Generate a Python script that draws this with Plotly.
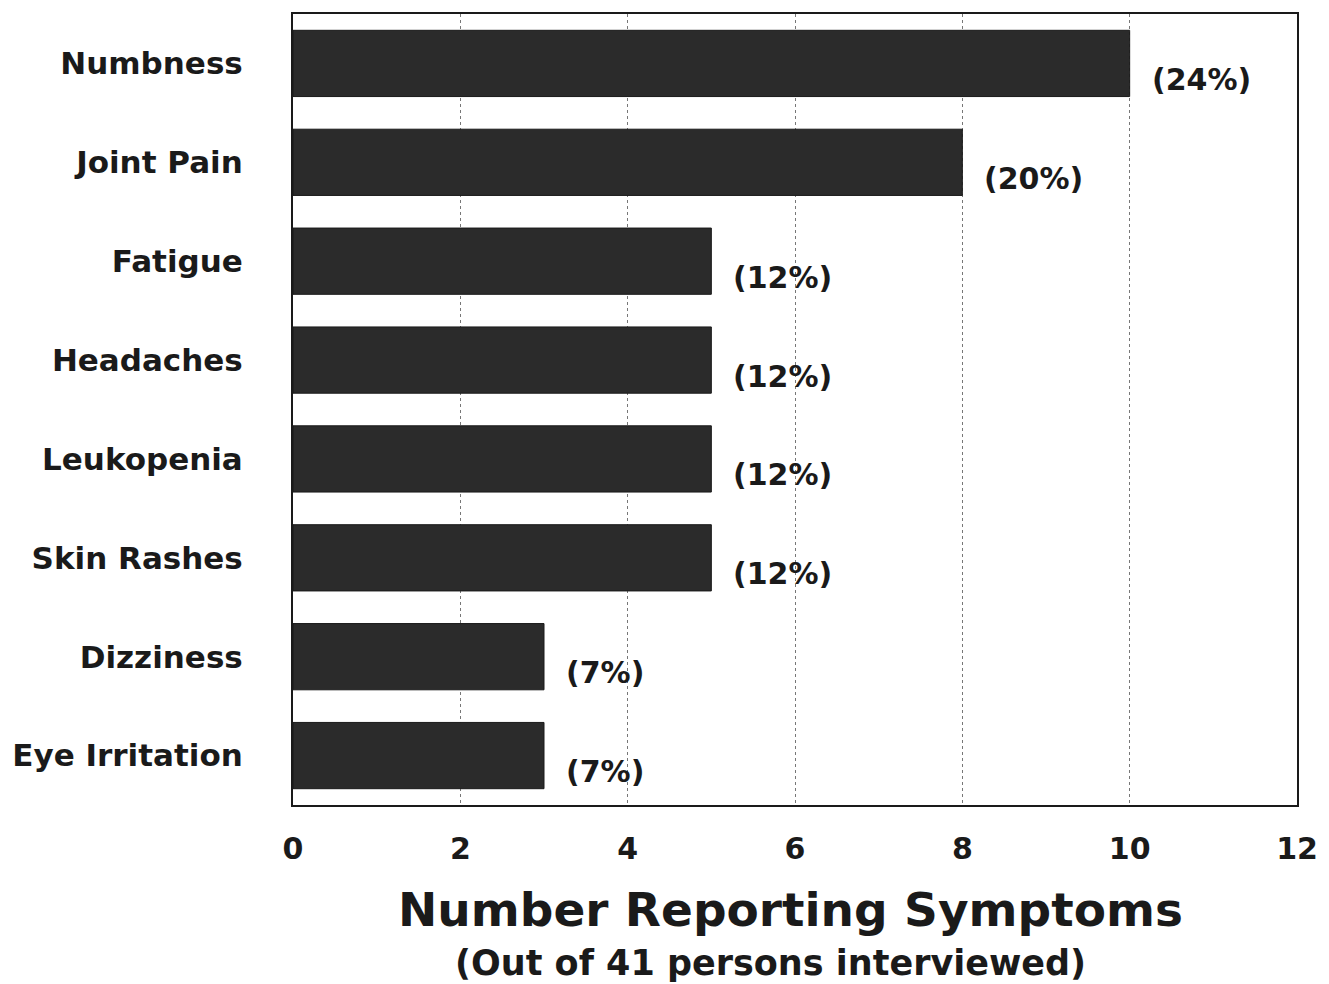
import plotly.graph_objects as go

categories = ["Numbness", "Joint Pain", "Fatigue", "Headaches", "Leukopenia",
              "Skin Rashes", "Dizziness", "Eye Irritation"]
counts = [10, 8, 5, 5, 5, 5, 3, 3]
percent_labels = ["(24%)", "(20%)", "(12%)", "(12%)", "(12%)", "(12%)", "(7%)", "(7%)"]
x_ticks = [0, 2, 4, 6, 8, 10, 12]

fig = go.Figure()
fig.add_trace(go.Bar(
    y=categories, x=counts, orientation="h",
    marker=dict(color="#2b2b2b", line=dict(color="#1a1a1a", width=1)),
    width=0.67, showlegend=False, hoverinfo="skip",
))

for cat, val, lab in zip(categories, counts, percent_labels):
    fig.add_annotation(x=val, y=cat, text="<b>" + lab + "</b>", showarrow=False,
                       xanchor="left", xshift=20, yshift=-16,
                       font=dict(family="DejaVu Sans", size=30, color="#1a1a1a"))

fig.add_annotation(x=0.496, y=-0.095, xref="paper", yref="paper",
                   text="<b>Number Reporting Symptoms</b>", showarrow=False,
                   xanchor="center", yanchor="top",
                   font=dict(family="DejaVu Sans", size=47, color="#1a1a1a"))
fig.add_annotation(x=0.476, y=-0.172, xref="paper", yref="paper",
                   text="<b>(Out of 41 persons interviewed)</b>", showarrow=False,
                   xanchor="center", yanchor="top",
                   font=dict(family="DejaVu Sans", size=35, color="#1a1a1a"))

fig.update_layout(
    width=1329, height=984,
    margin=dict(l=280, r=40, t=4, b=187),
    paper_bgcolor="white", plot_bgcolor="white",
    font=dict(family="DejaVu Sans", color="#1a1a1a"),
)
fig.update_xaxes(
    range=[0, 12], tickvals=x_ticks, ticks="",
    tickfont=dict(family="DejaVu Sans", size=30, color="#1a1a1a", weight="bold"),
    showgrid=True, gridcolor="#777777", gridwidth=1, griddash="dot",
    showline=True, linecolor="#1a1a1a", linewidth=2, mirror=True,
    zeroline=False, ticklabelstandoff=16,
)
fig.update_yaxes(
    categoryorder="array", categoryarray=categories, autorange=False,
    range=[7.5, -0.5], ticks="",
    tickfont=dict(family="DejaVu Sans", size=31, color="#1a1a1a", weight="bold"),
    showline=True, linecolor="#1a1a1a", linewidth=2, mirror=True,
    showgrid=False, ticklabelstandoff=42,
)

fig.write_html("out.html")
